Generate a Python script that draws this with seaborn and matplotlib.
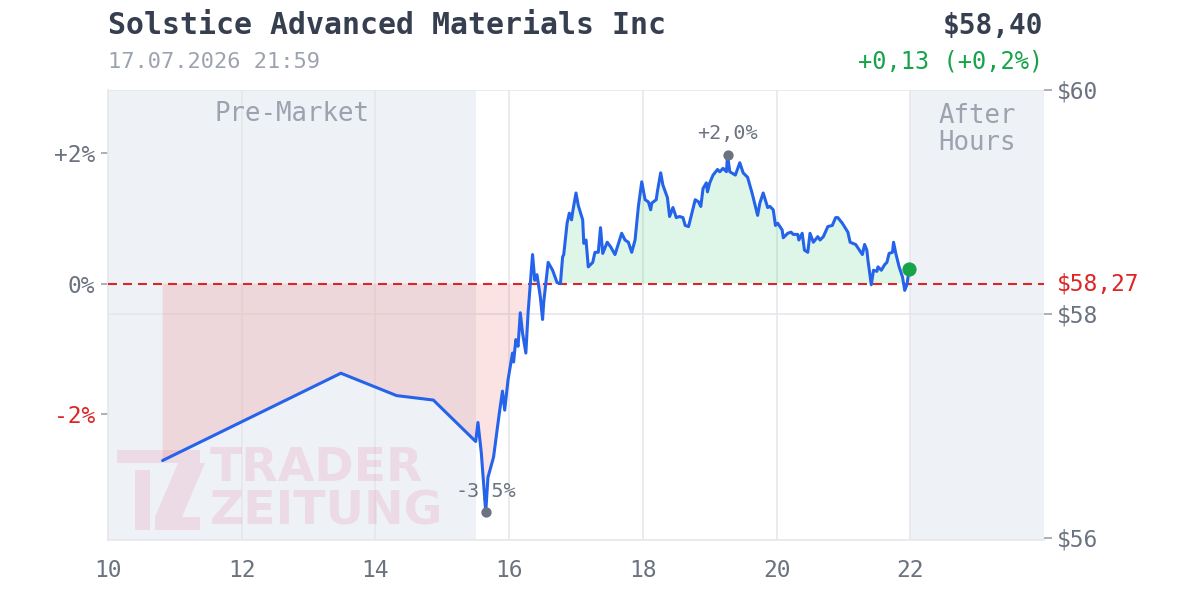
import pandas as pd
import seaborn as sns
import matplotlib.pyplot as plt
import matplotlib.patches as patches


TITLE = "Solstice Advanced Materials Inc"
STAMP = "17.07.2026 21:59"
PREV_CLOSE = 58.27

times = [
	"10:49", "13:29", "14:19", "14:52", "15:30", "15:32", "15:35", "15:39", "15:41", "15:46",
	"15:51", "15:54", "15:56", "15:59", "16:03", "16:04", "16:06", "16:08", "16:10", "16:12",
	"16:15", "16:17", "16:21", "16:23", "16:25", "16:28", "16:30", "16:31", "16:35", "16:39",
	"16:43", "16:46", "16:48", "16:49", "16:52", "16:54", "16:56", "16:57", "17:00", "17:02",
	"17:06", "17:07", "17:09", "17:11", "17:15", "17:17", "17:20", "17:22", "17:24", "17:28",
	"17:31", "17:35", "17:41", "17:44", "17:47", "17:50", "17:53", "17:56", "17:59", "18:02",
	"18:05", "18:07", "18:08", "18:12", "18:13", "18:16", "18:18", "18:22", "18:24", "18:27",
	"18:30", "18:33", "18:36", "18:38", "18:41", "18:44", "18:47", "18:50", "18:52", "18:54",
	"18:57", "18:58", "19:00", "19:03", "19:07", "19:09", "19:12", "19:15", "19:16", "19:18",
	"19:23", "19:27", "19:30", "19:34", "19:38", "19:43", "19:45", "19:48", "19:52", "19:54",
	"19:57", "19:59", "20:01", "20:05", "20:06", "20:10", "20:13", "20:15", "20:19", "20:20",
	"20:23", "20:25", "20:28", "20:30", "20:33", "20:37", "20:39", "20:42", "20:46", "20:50",
	"20:53", "20:55", "20:59", "21:04", "21:06", "21:11", "21:13", "21:17", "21:19", "21:21",
	"21:22", "21:25", "21:27", "21:30", "21:31", "21:34", "21:37", "21:39", "21:41", "21:44",
	"21:45", "21:47", "21:50", "21:53", "21:55", "21:57", "21:59"]

prices = [
	56.69, 57.47, 57.27, 57.23, 56.86, 57.03, 56.76, 56.23, 56.54, 56.72,
	57.10, 57.31, 57.14, 57.41, 57.65, 57.57, 57.77, 57.71, 58.01, 57.83,
	57.65, 58.01, 58.53, 58.30, 58.35, 58.15, 57.95, 58.10, 58.46, 58.39,
	58.28, 58.27, 58.51, 58.53, 58.81, 58.90, 58.84, 58.91, 59.08, 58.97,
	58.84, 58.63, 58.66, 58.42, 58.46, 58.55, 58.55, 58.77, 58.54, 58.64,
	58.60, 58.53, 58.72, 58.66, 58.64, 58.55, 58.66, 58.96, 59.18, 59.02,
	59.00, 58.93, 58.99, 59.02, 59.09, 59.26, 59.15, 59.04, 58.87, 58.95,
	58.86, 58.87, 58.86, 58.79, 58.78, 58.90, 59.02, 59.00, 58.96, 59.12,
	59.17, 59.09, 59.17, 59.24, 59.29, 59.27, 59.30, 59.27, 59.42, 59.27,
	59.24, 59.35, 59.26, 59.22, 59.08, 58.88, 58.99, 59.08, 58.95, 58.96,
	58.93, 58.79, 58.81, 58.75, 58.68, 58.72, 58.73, 58.71, 58.71, 58.66,
	58.72, 58.57, 58.55, 58.72, 58.64, 58.69, 58.66, 58.69, 58.78, 58.79,
	58.86, 58.86, 58.81, 58.73, 58.64, 58.62, 58.59, 58.53, 58.62, 58.57,
	58.48, 58.26, 58.39, 58.38, 58.42, 58.39, 58.44, 58.46, 58.54, 58.55,
	58.64, 58.54, 58.42, 58.33, 58.21, 58.26, 58.40]

hour_ticks = [10, 12, 14, 16, 18, 20, 22]
price_ticks = [56, 58, 60]
pct_ticks = [2, 0, -2]

PRE_MARKET = (10, 15.5)
AFTER_HOURS = (22, 24)

BLUE = "#2563eb"
RED = "#dc2626"
GREEN = "#16a34a"
GREY_TXT = "#6b7280"
LIGHT_TXT = "#9ca3af"
DARK_TXT = "#363f50"
BG = "#eef1f6"
GRID = "#e5e7eb"


def fmt(v, nd):
	return ("{:." + str(nd) + "f}").format(v).replace(".", ",")


sns.set_style("white")
plt.rcParams["font.family"] = ["DejaVu Sans Mono"]

df = pd.DataFrame({"time": times, "price": prices})
df["hour"] = pd.to_timedelta(df["time"] + ":00").dt.total_seconds() / 3600

fig = plt.figure(figsize=(12, 6), dpi=100)
ax = fig.add_axes([0.09, 0.1, 0.78, 0.75])
ax.set_xlim(10, 24)
ax.set_ylim(55.98, 60.0)

# session shading + grid
ax.axvspan(*PRE_MARKET, color=BG, lw=0, zorder=0)
ax.axvspan(*AFTER_HOURS, color=BG, lw=0, zorder=0)
for h in hour_ticks[1:]:
	ax.axvline(h, color=GRID, lw=1.2, zorder=0.5)
for p in price_ticks[1:]:
	ax.axhline(p, color=GRID, lw=1.2, zorder=0.5)

# watermark
def px(x, y):
	return (x / 1200, 1 - y / 600)

wm = dict(color="#e11d48", alpha=0.1, lw=0, transform=fig.transFigure, zorder=1)
ax.add_patch(patches.Rectangle(px(117, 463), 83 / 1200, 13 / 600, **wm))
ax.add_patch(patches.Rectangle(px(135, 530), 15 / 1200, 60 / 600, **wm))
ax.add_patch(patches.Rectangle(px(155, 530), 45 / 1200, 13 / 600, **wm))
ax.add_patch(patches.Polygon([px(178, 463), px(205, 463), px(182, 517), px(155, 517)], **wm))
ax.text(*px(210, 490), "TRADER\nZEITUNG", transform=fig.transFigure, fontsize=34, fontweight="bold",
	family="DejaVu Sans", color="#e11d48", alpha=0.1, ha="left", va="center",
	linespacing=0.95, zorder=1)

# fills against previous close
ax.fill_between(df["hour"], df["price"], PREV_CLOSE, where=df["price"] >= PREV_CLOSE,
	interpolate=True, color="#22c55e", alpha=0.15, lw=0, zorder=2)
ax.fill_between(df["hour"], df["price"], PREV_CLOSE, where=df["price"] <= PREV_CLOSE,
	interpolate=True, color="#ef4444", alpha=0.15, lw=0, zorder=2)

ax.axhline(PREV_CLOSE, color=RED, lw=1.5, ls=(0, (4.3, 2.9)), zorder=3)

sns.lineplot(data=df, x="hour", y="price", ax=ax, color=BLUE, linewidth=2.2,
	estimator=None, sort=False, zorder=5)

# extremes
i_max = df["price"].idxmax()
i_min = df["price"].idxmin()
for i in [i_max, i_min]:
	h, p = df.loc[i, "hour"], df.loc[i, "price"]
	ax.scatter([h], [p], s=55, color=GREY_TXT, zorder=6, lw=0)
	pct = (p / PREV_CLOSE - 1) * 100
	ax.annotate(("+" if pct > 0 else "") + fmt(pct, 1) + "%", xy=(h, p), xytext=(0, 21),
		textcoords="offset pixels", ha="center", va="center", fontsize=14.5, color=GREY_TXT, zorder=4)

last = df.iloc[-1]
ax.scatter([last["hour"]], [last["price"]], s=105, color=GREEN, zorder=7, lw=0)

# session labels
ax.text(sum(PRE_MARKET) / 2, 0.946, "Pre-Market", transform=ax.get_xaxis_transform(),
	ha="center", va="center", fontsize=18.5, color=LIGHT_TXT, zorder=3)
ax.text(sum(AFTER_HOURS) / 2, 0.913, "After\nHours", transform=ax.get_xaxis_transform(),
	ha="center", va="center", fontsize=18.5, color=LIGHT_TXT, linespacing=1.05, zorder=3)

# axes styling
ax.set_xlabel("")
ax.set_ylabel("")
ax.set_xticks(hour_ticks)
ax.set_xticklabels([str(h) for h in hour_ticks])
ax.tick_params(axis="x", length=0, pad=14, labelsize=16.5, labelcolor=GREY_TXT)

ax.set_yticks([PREV_CLOSE * (1 + q / 100) for q in pct_ticks])
ax.set_yticklabels([("+" if q > 0 else "") + str(q) + "%" for q in pct_ticks])
ax.tick_params(axis="y", length=5, width=1.2, color=LIGHT_TXT, pad=4.5, labelsize=16.5, labelcolor=GREY_TXT)
for lab, q in zip(ax.get_yticklabels(), pct_ticks):
	if q < 0:
		lab.set_color(RED)

for side in ["top", "right"]:
	ax.spines[side].set_visible(False)
for side in ["left", "bottom"]:
	ax.spines[side].set_color(GRID)
	ax.spines[side].set_linewidth(1.2)

ax2 = ax.twinx()
ax2.set_ylim(ax.get_ylim())
ax2.set_yticks(price_ticks)
ax2.set_yticklabels(["$" + str(p) for p in price_ticks])
ax2.tick_params(axis="y", length=6, width=1.2, color=LIGHT_TXT, pad=3.5, labelsize=16.5, labelcolor=GREY_TXT)
for s in ax2.spines.values():
	s.set_visible(False)

ax.annotate("$" + fmt(PREV_CLOSE, 2), xy=(1, PREV_CLOSE), xycoords=("axes fraction", "data"),
	xytext=(13, 0), textcoords="offset pixels", ha="left", va="center", fontsize=16.5, color=RED)

# header
change = last["price"] - PREV_CLOSE
change_pct = change / PREV_CLOSE * 100
fig.text(108 / 1200, 1 - 26 / 600, TITLE, fontsize=21.5, fontweight="bold", color=DARK_TXT, va="center")
fig.text(108 / 1200, 1 - 62 / 600, STAMP, fontsize=15.8, color=LIGHT_TXT, va="center")
fig.text(1043 / 1200, 1 - 26 / 600, "$" + fmt(last["price"], 2), fontsize=20, fontweight="bold",
	color=DARK_TXT, va="center", ha="right")
fig.text(1043 / 1200, 1 - 62 / 600,
	"{}{} ({}{}%)".format("+" if change >= 0 else "", fmt(change, 2), "+" if change >= 0 else "", fmt(change_pct, 1)),
	fontsize=17, color=GREEN, va="center", ha="right")

plt.savefig("out.png", dpi=100)
